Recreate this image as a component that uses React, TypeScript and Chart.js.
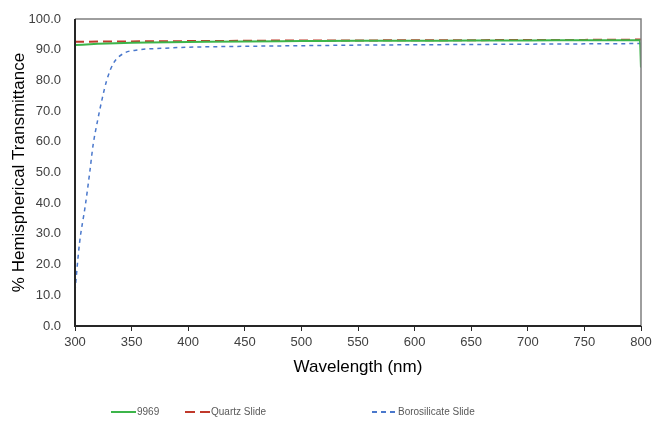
import React, { useEffect, useRef } from "react";
import { Chart, registerables } from "chart.js";
Chart.register(...registerables);

const wl9969 = [300, 320, 350, 400, 450, 500, 550, 600, 650, 700, 750, 799, 800];
const t9969 = [91.5, 91.9, 92.3, 92.5, 92.7, 92.8, 92.9, 92.9, 93.0, 93.0, 93.1, 93.1, 84.2];

const wlQuartz = [300, 350, 400, 450, 500, 550, 600, 650, 700, 750, 800];
const tQuartz = [92.6, 92.7, 92.8, 92.9, 93.0, 93.0, 93.1, 93.1, 93.2, 93.2, 93.3];

const wlBoro = [300, 304, 309, 313, 316, 320, 324, 328, 334, 343, 355, 380, 400, 450, 500, 550, 600, 650, 700, 750, 800];
const tBoro = [11.5, 27, 39, 50, 59, 67, 74, 80, 85.6, 88.8, 89.9, 90.5, 90.8, 91.1, 91.3, 91.5, 91.6, 91.7, 91.8, 91.9, 92.0];

const xTicks = [300, 350, 400, 450, 500, 550, 600, 650, 700, 750, 800];

const seriesNames = ["9969", "Quartz Slide", "Borosilicate Slide"];
const colors = ["#3cb54a", "#c0392b", "#4a78cc"];

const toPts = (xs: number[], ys: number[]) => xs.map((x, i) => ({ x, y: ys[i] }));

export default function App() {
  const ref = useRef<HTMLCanvasElement>(null);
  useEffect(() => {
    document.body.style.margin = "0";
    const font = "'Liberation Sans', Arial, sans-serif";
    const boxPlugin = {
      id: "box",
      afterDatasetsDraw(chart: any) {
        const { ctx, chartArea: a } = chart;
        ctx.save();
        ctx.strokeStyle = "#7f7f7f";
        ctx.lineWidth = 1.5;
        ctx.beginPath();
        ctx.moveTo(a.left, a.top);
        ctx.lineTo(a.right, a.top);
        ctx.lineTo(a.right, a.bottom);
        ctx.stroke();
        ctx.strokeStyle = "#262626";
        ctx.lineWidth = 2;
        ctx.beginPath();
        ctx.moveTo(a.left, a.top);
        ctx.lineTo(a.left, a.bottom);
        ctx.lineTo(a.right, a.bottom);
        ctx.stroke();
        ctx.restore();
      },
      afterDraw(chart: any) {
        const { ctx } = chart;
        const y = 412;
        const lineStarts = [111, 185, 372];
        const dashes = [[], [10, 5], [5, 4]];
        ctx.save();
        ctx.font = "10px " + font;
        ctx.textBaseline = "middle";
        ctx.fillStyle = "#595959";
        seriesNames.forEach((n, i) => {
          ctx.strokeStyle = colors[i];
          ctx.lineWidth = 2;
          ctx.setLineDash(dashes[i]);
          ctx.beginPath();
          ctx.moveTo(lineStarts[i], y);
          ctx.lineTo(lineStarts[i] + 25, y);
          ctx.stroke();
          ctx.setLineDash([]);
          ctx.fillText(n, lineStarts[i] + 26, y);
        });
        ctx.restore();
      },
    };
    const chart = new Chart(ref.current!, {
      type: "line",
      data: {
        datasets: [
          { label: seriesNames[0], data: toPts(wl9969, t9969), borderColor: colors[0], borderWidth: 2, pointRadius: 0, cubicInterpolationMode: "monotone" } as any,
          { label: seriesNames[1], data: toPts(wlQuartz, tQuartz), borderColor: colors[1], borderWidth: 2, borderDash: [9, 5], pointRadius: 0, cubicInterpolationMode: "monotone" } as any,
          { label: seriesNames[2], data: toPts(wlBoro, tBoro), borderColor: colors[2], borderWidth: 1.5, borderDash: [4, 4], pointRadius: 0, cubicInterpolationMode: "monotone" } as any,
        ],
      },
      options: {
        animation: false,
        responsive: false,
        layout: { padding: { left: 0, right: 13, top: 19, bottom: 48 } },
        plugins: { legend: { display: false }, tooltip: { enabled: false } },
        scales: {
          x: {
            type: "linear",
            min: 300,
            max: 800,
            afterFit: (s: any) => { s.height = 52; s.paddingRight = 0; s.paddingLeft = 0; },
            afterBuildTicks: (s: any) => { s.ticks = xTicks.map((v) => ({ value: v })); },
            grid: { drawOnChartArea: false, drawTicks: true, tickLength: 5, color: "#262626", lineWidth: 1 },
            border: { display: false },
            ticks: { color: "#404040", font: { size: 13, family: font }, padding: 4, maxRotation: 0 },
            title: { display: true, text: "Wavelength (nm)", color: "#000", font: { size: 17, family: font }, padding: { top: 4, bottom: 0 } },
          },
          y: {
            min: 0,
            max: 100,
            afterFit: (s: any) => { s.width = 75; s.paddingTop = 0; s.paddingBottom = 0; },
            grid: { display: false },
            border: { display: false },
            ticks: { stepSize: 10, color: "#404040", font: { size: 13, family: font }, padding: 6, callback: (v: any) => Number(v).toFixed(1) },
            title: { display: true, text: "% Hemispherical Transmittance", color: "#000", font: { size: 17, family: font }, padding: { top: 9, bottom: 0 } },
          },
        },
      },
      plugins: [boxPlugin],
    });
    return () => chart.destroy();
  }, []);
  return (
    <div style={{ width: 654, height: 426, background: "#fff" }}>
      <canvas ref={ref} width={654} height={426} />
    </div>
  );
}
